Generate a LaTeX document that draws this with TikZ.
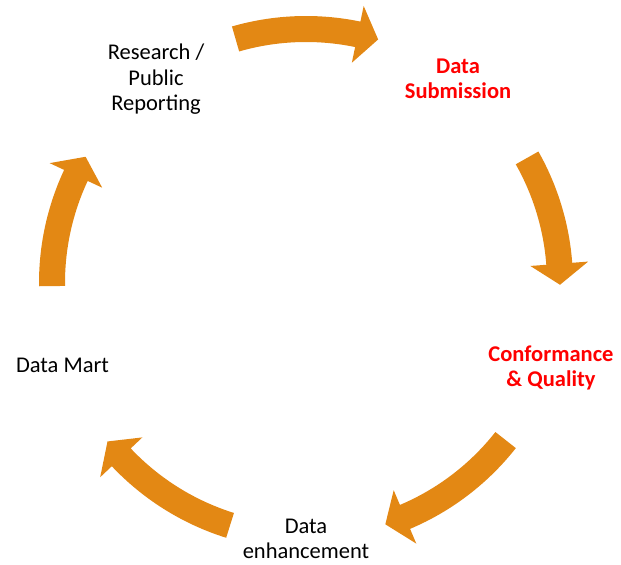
\documentclass[tikz,border=0pt]{standalone}
\usepackage{fontspec}
\setmainfont{Carlito}
\definecolor{arroworange}{RGB}{227,136,20}
\definecolor{hired}{RGB}{255,0,0}
\newcommand\circarrow[2]{% start angle, tip angle (clockwise)
  \pgfmathsetmacro\hb{#2+4.74}%
  \fill[arroworange] (#1:267bp) arc[start angle=#1, end angle=\hb, radius=267bp]
    -- (\hb:283bp) -- (#2:254bp) -- (\hb:225bp) -- (\hb:241bp)
    arc[start angle=\hb, end angle=#1, radius=241bp] -- cycle;}
\begin{document}
\begin{tikzpicture}[x=1bp,y=1bp,
  lbl/.style={align=center,inner sep=0pt,font=\fontsize{22.5bp}{25.5bp}\selectfont},
  hot/.style={lbl,text=hired,font=\fontsize{22.5bp}{25.5bp}\selectfont\bfseries}]
\useasboundingbox (0,0) rectangle (621,565);
\begin{scope}[shift={(306,282)}]
  \circarrow{106.1}{73.5}
  \circarrow{29.5}{-0.4}
  \circarrow{-38.2}{-71.8}
  \circarrow{-107.4}{-141.4}
  \circarrow{180.7}{150.2}
\end{scope}
\node[lbl] (research) at (156,485.5) {Research /\\Public\\Reporting};
\node[hot] (submission) at (458,486) {Data\\Submission};
\node[hot] (conformance) at (551,197) {Conformance\\\& Quality};
\node[lbl] (enhancement) at (306,26) {Data\\enhancement};
\node[lbl] (mart) at (62.5,200) {Data Mart};
\end{tikzpicture}
\end{document}
